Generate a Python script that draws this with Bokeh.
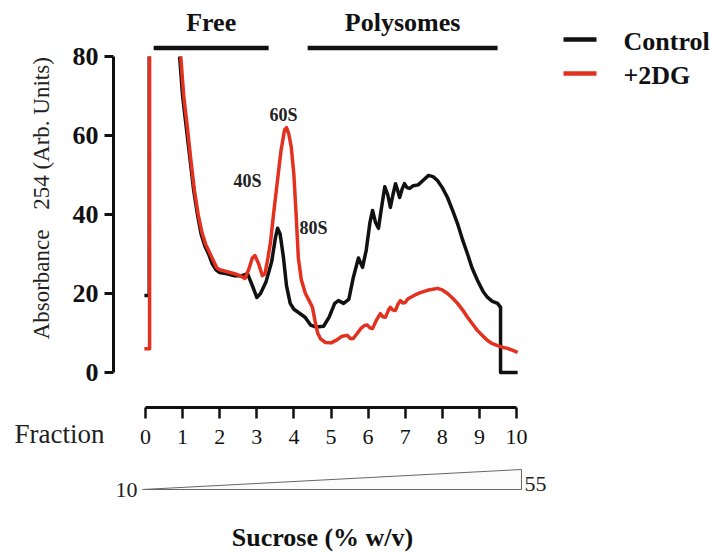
import math
from bokeh.plotting import figure
from bokeh.models import Range1d, LinearAxis, FixedTicker
from bokeh.core.properties import value
from bokeh.embed import file_html
from bokeh.resources import INLINE

# ---------------- data ----------------
control_fraction = [-0.03, 0.10, 0.10, None,
    0.92, 1.0, 1.1, 1.2, 1.3, 1.4, 1.5, 1.6, 1.7, 1.8, 1.9, 2.0, 2.2, 2.4, 2.6, 2.75,
    2.88, 3.0, 3.1, 3.25, 3.4, 3.5, 3.56, 3.63, 3.72, 3.8, 3.9, 4.0, 4.15, 4.3, 4.45,
    4.6, 4.8, 4.95, 5.1, 5.2, 5.34, 5.48, 5.6, 5.74, 5.85, 5.95, 6.05, 6.12, 6.2, 6.28,
    6.35, 6.45, 6.53, 6.6, 6.67, 6.74, 6.8, 6.85, 6.92, 6.98, 7.05, 7.12, 7.22, 7.35,
    7.5, 7.63, 7.75, 7.87, 8.0, 8.14, 8.28, 8.41, 8.55, 8.68, 8.8, 8.95, 9.1, 9.22,
    9.35, 9.49, 9.57, 9.57, 10.03]
control_abs = [19.5, 19.5, 80, None,
    80, 70, 62, 54, 46, 40, 35, 32, 30, 27.5, 26, 25.3, 25, 24.5, 24.5, 25,
    22, 19, 20, 23, 28, 34, 36.5, 35, 29, 22, 17.5, 16, 15, 14, 12,
    11.5, 11.7, 14, 17.5, 18.2, 17.5, 18.5, 24, 29, 26.6, 31, 38, 41, 38, 36.5,
    41, 47, 45, 41.8, 45, 47.8, 46, 44.3, 46.5, 47.8, 46.8, 46.6, 47.3, 47.5,
    48.8, 49.9, 49.6, 48.6, 46.8, 44.3, 41, 37.7, 33.5, 30, 26.5, 23.3, 20.5, 19,
    18, 17.5, 16.5, 0, 0]

dg_fraction = [-0.03, 0.11, 0.11, None,
    0.95, 1.03, 1.13, 1.22, 1.32, 1.42, 1.52, 1.62, 1.72, 1.82, 1.92, 2.0, 2.2, 2.4,
    2.55, 2.68, 2.78, 2.88, 2.95, 3.05, 3.15, 3.22, 3.3, 3.37, 3.45, 3.55, 3.65, 3.75,
    3.8, 3.86, 3.93, 4.0, 4.06, 4.12, 4.2, 4.31, 4.42, 4.5, 4.57, 4.64, 4.72, 4.85,
    5.0, 5.15, 5.3, 5.44, 5.52, 5.6, 5.7, 5.8, 5.9, 5.98, 6.05, 6.12, 6.22, 6.33,
    6.4, 6.47, 6.55, 6.6, 6.67, 6.74, 6.8, 6.87, 6.94, 7.0, 7.07, 7.14, 7.3, 7.41,
    7.6, 7.87, 8.0, 8.14, 8.28, 8.41, 8.55, 8.68, 8.82, 8.95, 9.1, 9.22, 9.35, 9.49,
    9.62, 9.76, 9.9, 10.03]
dg_abs = [6, 6, 80, None,
    80, 70, 62, 54, 46, 40, 35.5, 32.5, 30.5, 28.5, 26.5, 26, 25.5, 25,
    24.5, 23.8, 26, 29, 29.6, 27.5, 24.5, 25, 29, 33, 40, 48, 56, 61.5,
    62, 60.5, 57, 50, 40, 29, 23.5, 20, 18, 16.5, 13, 10, 8.5, 7.6,
    7.5, 8.2, 9.2, 9.4, 8.6, 8.6, 9.8, 11.1, 11.9, 12, 11.3, 11.1, 13.2, 14.9,
    14.1, 14, 15.8, 16.5, 15.8, 15.7, 17.2, 18.2, 17.6, 17.7, 18.6, 19, 19.8, 20.2,
    20.8, 21.3, 20.9, 20, 18.8, 17.5, 15.8, 14, 12.2, 10.6, 9.2, 8.1, 7.3, 6.8,
    6.4, 6.1, 5.6, 5.1]

y_ticks = [0, 20, 40, 60, 80]
fraction_ticks = list(range(0, 11))
series_names = ["Control", "+2DG"]
series_colors = ["#111111", "#e3301f"]
regions = ["Free", "Polysomes"]
region_start = [0.22, 4.37]
region_end = [3.32, 9.49]
peak_names = ["40S", "60S", "80S"]
peak_fraction = [2.75, 3.72, 4.53]
peak_abs = [48.6, 65.1, 36.7]
sucrose_range = ["10", "55"]

# ---------------- layout helpers (picture pixel -> data) ----------------
X0, SX = 145.0, 37.1
Y0, SY = 372.0, 3.95
def fx(px):
    return (px - X0) / SX
def vy(py):
    return (Y0 - py) / SY

W, H = 716, 553
p = figure(width=W, height=H, output_backend="svg", toolbar_location=None,
           x_range=Range1d(fx(0), fx(W)), y_range=Range1d(vy(H), vy(0)),
           x_axis_type=None, y_axis_type=None, min_border=0,
           outline_line_color=None, background_fill_color="white")

SERIF = value("Liberation Serif")

# axes
yax = LinearAxis(fixed_location=fx(113), bounds=(0, 80), ticker=FixedTicker(ticks=y_ticks),
                 major_tick_out=9, major_tick_in=0, minor_tick_out=0, minor_tick_in=0,
                 axis_line_width=3, major_tick_line_width=3, axis_line_color="#111",
                 major_tick_line_color="#111",
                 major_label_text_font="Liberation Serif", major_label_text_font_style="bold",
                 major_label_text_font_size="26px", major_label_text_color="#111",
                 major_label_standoff=6)
p.add_layout(yax, "left")
xax = LinearAxis(fixed_location=vy(407), bounds=(0, 10), ticker=FixedTicker(ticks=fraction_ticks),
                 major_tick_out=11, major_tick_in=0, minor_tick_out=0, minor_tick_in=0,
                 axis_line_width=3, major_tick_line_width=2.5, axis_line_color="#111",
                 major_tick_line_color="#111",
                 major_label_text_font="Liberation Serif", major_label_text_font_style="normal",
                 major_label_text_font_size="22px", major_label_text_color="#111",
                 major_label_standoff=11)
p.add_layout(xax, "below")

def nanify(a):
    return [float("nan") if v is None else v for v in a]

p.line(nanify(control_fraction), nanify(control_abs), line_color=series_colors[0],
       line_width=3.5, line_join="round")
p.line(nanify(dg_fraction), nanify(dg_abs), line_color=series_colors[1],
       line_width=3.5, line_join="round")

# region bars + labels
p.segment(x0=region_start, y0=[vy(47.5)] * 2, x1=region_end, y1=[vy(47.5)] * 2,
          line_color="#111", line_width=4.5)
p.text(x=[(a + b) / 2 for a, b in zip(region_start, region_end)], y=[vy(22)] * 2, text=regions,
       text_font=SERIF, text_font_style="bold", text_font_size="26px", text_color="#111",
       text_align="center", text_baseline="middle")

# peak labels
p.text(x=peak_fraction, y=peak_abs, text=peak_names, text_font=SERIF, text_font_style="bold",
       text_font_size="18px", text_color="#222", text_align="center", text_baseline="middle")

# legend
leg_y = [vy(39), vy(73)]
p.segment(x0=[fx(563)] * 2, y0=leg_y, x1=[fx(596)] * 2, y1=leg_y, line_color=series_colors,
          line_width=4.5)
p.text(x=[fx(623)] * 2, y=[vy(41), vy(75)], text=series_names, text_font=SERIF,
       text_font_style="bold", text_font_size="26px", text_color="#111",
       text_align="left", text_baseline="middle")

# y axis label
p.text(x=[fx(41), fx(41)], y=[vy(284), vy(133)], text=["Absorbance", "254 (Arb. Units)"],
       angle=math.pi / 2, text_font=SERIF, text_font_size="23px", text_color="#222",
       text_align="center", text_baseline="middle")

# Fraction label
p.text(x=[fx(14)], y=[vy(433)], text=["Fraction"], text_font=SERIF, text_font_size="27px",
       text_color="#222", text_align="left", text_baseline="middle")

# sucrose gradient wedge
p.patch(x=[fx(142), fx(521), fx(521)], y=[vy(489), vy(489), vy(469)],
        fill_color="#fbfbfb", line_color="#666666", line_width=1)
p.text(x=[fx(137)], y=[vy(489)], text=[sucrose_range[0]], text_font=SERIF,
       text_font_size="22px", text_color="#222", text_align="right", text_baseline="middle")
p.text(x=[fx(524)], y=[vy(483)], text=[sucrose_range[1]], text_font=SERIF,
       text_font_size="22px", text_color="#222", text_align="left", text_baseline="middle")
p.text(x=[fx(322)], y=[vy(537)], text=["Sucrose (% w/v)"], text_font=SERIF,
       text_font_style="bold", text_font_size="26px", text_color="#111",
       text_align="center", text_baseline="middle")

open("out.html", "w").write(file_html(p, INLINE))
